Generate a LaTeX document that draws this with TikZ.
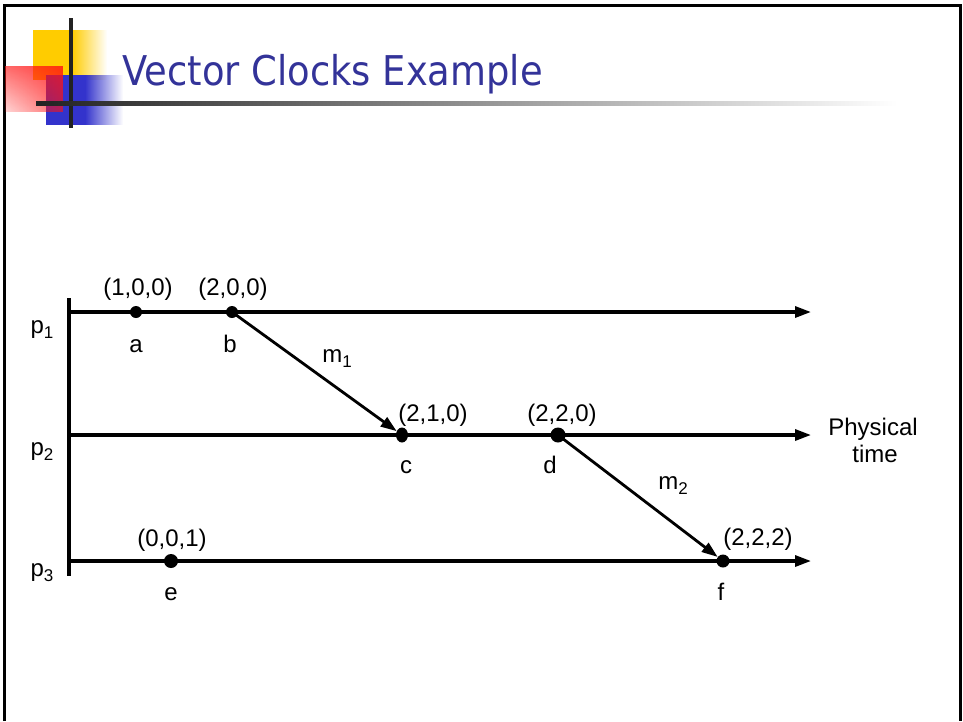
\documentclass[tikz,border=0pt]{standalone}
\usepackage{fontspec}
\setmainfont{Liberation Sans}
\newfontfamily\titlefont{DejaVu Sans}
\usetikzlibrary{arrows.meta,fadings,shapes.geometric}
\definecolor{titleblue}{RGB}{51,51,153}
\definecolor{sqyellow}{RGB}{255,204,0}
\definecolor{sqblue}{RGB}{51,51,204}
\definecolor{sqred}{RGB}{255,20,20}
\definecolor{bardark}{RGB}{34,34,34}
\tikzfading[name=fadeE, left color=transparent!0, right color=transparent!100]
\tikzfading[name=redH, left color=transparent!85, right color=transparent!0]
\tikzfading[name=redV, top color=transparent!0, bottom color=transparent!85]
\newcommand\mysub[1]{\raisebox{-5pt}{\fontsize{17}{17}\selectfont #1}}
\begin{document}
\begin{tikzpicture}[x=1pt,y=-1pt,
  lbl/.style={font=\fontsize{24}{28}\selectfont, inner sep=0pt, anchor=base},
  dot/.style={circle, fill=black, inner sep=0pt, minimum size=12pt},
  bigdot/.style={circle, fill=black, inner sep=0pt, minimum size=15pt},
  ovaldot/.style={ellipse, fill=black, inner sep=0pt, minimum width=12pt, minimum height=15pt},
  tl/.style={line width=3.2pt, -{Triangle[length=16pt,width=11pt]}},
  msg/.style={line width=2.8pt, shorten <=-6pt, -{Triangle[length=16pt,width=11pt]}},
  frame/.style={line width=3pt, draw=black}
]
\useasboundingbox (0,0) rectangle (963,721);
% slide frame
\draw[frame] (4.5,721) -- (4.5,5) -- (960.5,5) -- (960.5,721);
% title decoration
\fill[sqyellow] (33,30) rectangle (72,80);
\fill[sqyellow, path fading=fadeE] (72,30) rectangle (107,80);
\fill[sqblue] (46,75) rectangle (85,125);
\fill[sqblue, path fading=fadeE] (85,75) rectangle (123,125);
\fill[sqred, path fading=redH, fill opacity=0.6] (5,66) rectangle (63,112);
\fill[sqred, path fading=redV, fill opacity=0.6] (5,66) rectangle (63,112);
\fill[bardark] (69,18) rectangle (73,128);
\shade[left color=bardark, right color=white] (36,101.5) rectangle (897,105);
\node[anchor=base west, inner sep=0pt, font=\titlefont\fontsize{41}{48}\selectfont,
      text=titleblue, xscale=0.9] (title) at (122,85) {Vector Clocks Example};
% axis and time lines
\coordinate (axT) at (69,298);
\coordinate (axB) at (69,576);
\draw[line width=3.2pt] (axT) -- (axB);
\coordinate (p1s) at (69,312); \coordinate (p1e) at (811,312);
\coordinate (p2s) at (69,435); \coordinate (p2e) at (811,435);
\coordinate (p3s) at (69,561); \coordinate (p3e) at (811,561);
\draw[tl] (p1s) -- (p1e);
\draw[tl] (p2s) -- (p2e);
\draw[tl] (p3s) -- (p3e);
% events
\node[dot] (a) at (136,312) {};
\node[dot] (b) at (232,312) {};
\node[ovaldot] (c) at (402,435) {};
\node[bigdot] (d) at (558,435) {};
\node[bigdot, minimum size=14pt] (e) at (171,561) {};
\node[dot, minimum size=13pt] (f) at (723,561) {};
% messages
\draw[msg] (b) -- (c);
\draw[msg] (d) -- (f);
% process labels
\node[lbl] (lp1) at (42,333) {p\mysub{1}};
\node[lbl] (lp2) at (42,455) {p\mysub{2}};
\node[lbl] (lp3) at (42,576) {p\mysub{3}};
% timestamps
\node[lbl] (t1) at (138,295) {(1,0,0)};
\node[lbl] (t2) at (233,295) {(2,0,0)};
\node[lbl] (t3) at (433,421) {(2,1,0)};
\node[lbl] (t4) at (562,421) {(2,2,0)};
\node[lbl] (t5) at (172,546) {(0,0,1)};
\node[lbl] (t6) at (758,545) {(2,2,2)};
% event names
\node[lbl] (na) at (136,352) {a};
\node[lbl] (nb) at (230,352) {b};
\node[lbl] (nc) at (406,473) {c};
\node[lbl] (nd) at (550,473) {d};
\node[lbl] (ne) at (171,600) {e};
\node[lbl] (nf) at (721,600) {f};
% message labels
\node[lbl] (m1) at (337,362) {m\mysub{1}};
\node[lbl] (m2) at (673,489) {m\mysub{2}};
% physical time
\node[lbl] (phys) at (873,435) {Physical};
\node[lbl] (ptime) at (875,462) {time};
\end{tikzpicture}
\end{document}
